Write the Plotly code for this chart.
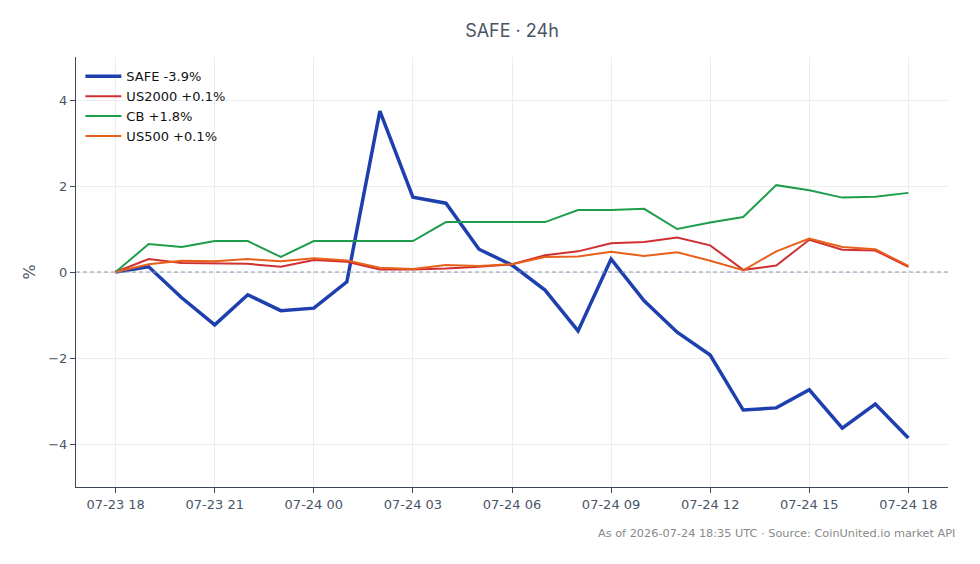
import plotly.graph_objects as go
import pandas as pd

times = pd.date_range("2026-07-23 18:00", periods=25, freq="h")

safe = [0, 0.12, -0.6, -1.23, -0.53, -0.9, -0.84, -0.23, 3.74, 1.74, 1.6, 0.53, 0.16,
        -0.42, -1.37, 0.3, -0.67, -1.4, -1.93, -3.21, -3.16, -2.74, -3.63, -3.07, -3.86]
us2000 = [0, 0.3, 0.21, 0.2, 0.19, 0.12, 0.28, 0.24, 0.06, 0.06, 0.08, 0.12, 0.18,
          0.39, 0.48, 0.67, 0.7, 0.8, 0.62, 0.05, 0.15, 0.75, 0.52, 0.5, 0.12]
cb = [0, 0.65, 0.58, 0.72, 0.72, 0.35, 0.72, 0.72, 0.72, 0.72, 1.16, 1.16, 1.16,
      1.16, 1.44, 1.44, 1.47, 1.0, 1.15, 1.28, 2.02, 1.9, 1.73, 1.75, 1.84]
us500 = [0, 0.18, 0.26, 0.25, 0.3, 0.25, 0.32, 0.27, 0.1, 0.07, 0.16, 0.14, 0.18,
         0.35, 0.36, 0.47, 0.37, 0.46, 0.26, 0.04, 0.48, 0.78, 0.58, 0.53, 0.14]

names = ["SAFE -3.9%", "US2000 +0.1%", "CB +1.8%", "US500 +0.1%"]
series = [safe, us2000, cb, us500]
colors = ["#1e40af", "#d03030", "#1e9e4a", "#e8611a"]
widths = [3.5, 2, 2, 2]

fig = go.Figure()
for n, s, c, w in zip(names, series, colors, widths):
    fig.add_trace(go.Scatter(x=times, y=s, mode="lines", name=n,
                             line=dict(color=c, width=w)))

fig.add_shape(type="line", xref="paper", x0=0, x1=1, yref="y", y0=0, y1=0,
              line=dict(color="#8a9bb0", width=1, dash="4px,3px"), layer="above")

pad = pd.Timedelta(minutes=72)
fig.update_layout(
    width=980, height=564,
    margin=dict(l=76, r=32, t=57, b=77),
    paper_bgcolor="white", plot_bgcolor="white",
    font=dict(family="DejaVu Sans", size=13, color="#4a5568"),
    title=dict(text="SAFE · 24h", x=0.5, xref="paper", xanchor="center", y=0.945,
               yanchor="middle",
               font=dict(family="Inter", size=18, color="#4a5564")),
    showlegend=True,
    legend=dict(x=0.005, y=0.99, xanchor="left", yanchor="top",
                bgcolor="rgba(0,0,0,0)", font=dict(size=13, color="#111"),
                itemwidth=36),
    xaxis=dict(range=[times[0] - pad, times[-1] + pad], tickformat="%m-%d %H",
               dtick=3 * 3600 * 1000, tick0=times[0],
               showline=True, linecolor="#3d4756", linewidth=1.2,
               ticks="outside", ticklen=5, tickcolor="#3d4756",
               showgrid=True, gridcolor="#ebedf0", zeroline=False),
    yaxis=dict(range=[-5, 5], dtick=2, tick0=0, title=dict(text="%", standoff=8),
               showline=True, linecolor="#3d4756", linewidth=1.2,
               ticks="outside", ticklen=5, tickcolor="#3d4756",
               showgrid=True, gridcolor="#ebedf0", zeroline=False),
    annotations=[dict(text="As of 2026-07-24 18:35 UTC · Source: CoinUnited.io market API",
                      xref="paper", yref="paper", x=1.01, y=-0.108, xanchor="right",
                      yanchor="middle", showarrow=False,
                      font=dict(size=11.3, color="#888"))],
)

fig.write_html("out.html")
